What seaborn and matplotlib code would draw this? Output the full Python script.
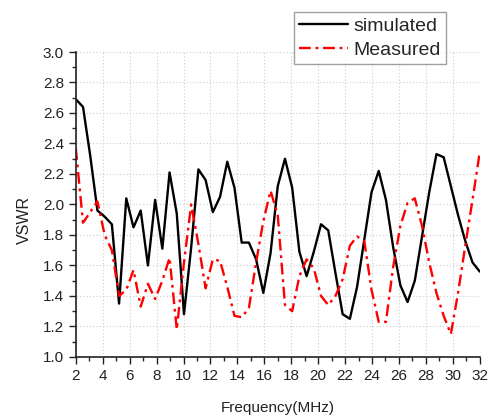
import numpy as np
import pandas as pd
import matplotlib
matplotlib.use("Agg")
import matplotlib.pyplot as plt
from matplotlib.ticker import MultipleLocator, FormatStrFormatter
import seaborn as sns

# frequency grid (MHz), 57 samples from 2 to 32
freq = np.linspace(2, 32, 57)

simulated = [2.69, 2.64, 2.32, 1.96, 1.92, 1.87, 1.35, 2.04, 1.85, 1.96,
             1.60, 2.03, 1.71, 2.21, 1.94, 1.28, 1.72, 2.23, 2.16, 1.95,
             2.05, 2.28, 2.11, 1.75, 1.75, 1.64, 1.42, 1.68, 2.12, 2.30,
             2.11, 1.69, 1.53, 1.69, 1.87, 1.83, 1.55, 1.28, 1.25, 1.46,
             1.77, 2.08, 2.22, 2.03, 1.72, 1.47, 1.36, 1.50, 1.79, 2.08,
             2.33, 2.31, 2.12, 1.93, 1.76, 1.62, 1.56]

measured = [2.37, 1.88, 1.95, 2.02, 1.80, 1.70, 1.40, 1.44, 1.57, 1.33,
            1.48, 1.38, 1.50, 1.65, 1.18, 1.62, 2.00, 1.74, 1.45, 1.64,
            1.63, 1.46, 1.27, 1.26, 1.32, 1.62, 1.89, 2.09, 1.93, 1.34,
            1.30, 1.53, 1.64, 1.58, 1.40, 1.34, 1.40, 1.51, 1.73, 1.79,
            1.76, 1.44, 1.23, 1.23, 1.59, 1.86, 2.01, 2.04, 1.86, 1.62,
            1.42, 1.27, 1.15, 1.42, 1.73, 2.03, 2.34]

df = pd.DataFrame({"freq": freq, "simulated": simulated, "Measured": measured})

sns.set_style("ticks")
plt.rcParams['font.family'] = ['Liberation Sans', 'DejaVu Sans']

fig = plt.figure(figsize=(4.89, 4.16), dpi=100)
ax = fig.add_axes([0.155, 0.142, 0.826, 0.733])

sns.lineplot(data=df, x="freq", y="simulated", ax=ax, color="black",
             linewidth=1.7, label="simulated")
sns.lineplot(data=df, x="freq", y="Measured", ax=ax, color="red",
             linewidth=1.7, linestyle=(0, (5, 2, 1.2, 2)), label="Measured")

ax.set_xlim(2, 32)
ax.set_ylim(1.0, 3.0)
ax.xaxis.set_major_locator(MultipleLocator(2))
ax.xaxis.set_minor_locator(MultipleLocator(1))
ax.yaxis.set_major_locator(MultipleLocator(0.2))
ax.yaxis.set_minor_locator(MultipleLocator(0.1))
ax.yaxis.set_major_formatter(FormatStrFormatter("%.1f"))

ax.grid(True, which="major", linestyle=(0, (1, 2)), color="#cccccc", linewidth=0.8)
ax.tick_params(which="major", length=5, width=1, labelsize=11, colors="#222222", direction="out")
ax.tick_params(which="minor", length=3, width=1, direction="out")
for side in ["top", "right"]:
    ax.spines[side].set_visible(False)
for side in ["left", "bottom"]:
    ax.spines[side].set_linewidth(1.2)
    ax.spines[side].set_color("#222222")

ax.set_xlabel("Frequency(MHz)", fontsize=11, color="#222222")
ax.set_ylabel("VSWR", fontsize=11.5, color="#222222")
ax.xaxis.set_label_coords(0.5, -0.145)
ax.yaxis.set_label_coords(-0.108, 0.45)

leg = ax.legend(loc="upper right", bbox_to_anchor=(0.912, 0.971),
                bbox_transform=fig.transFigure, fontsize=14, frameon=True,
                fancybox=False, borderpad=0.25, labelspacing=0.35,
                handlelength=2.5, handletextpad=0.3, borderaxespad=0)
leg.get_frame().set_edgecolor("#888888")
leg.get_frame().set_linewidth(1.0)

fig.savefig("out.png", dpi=100)
